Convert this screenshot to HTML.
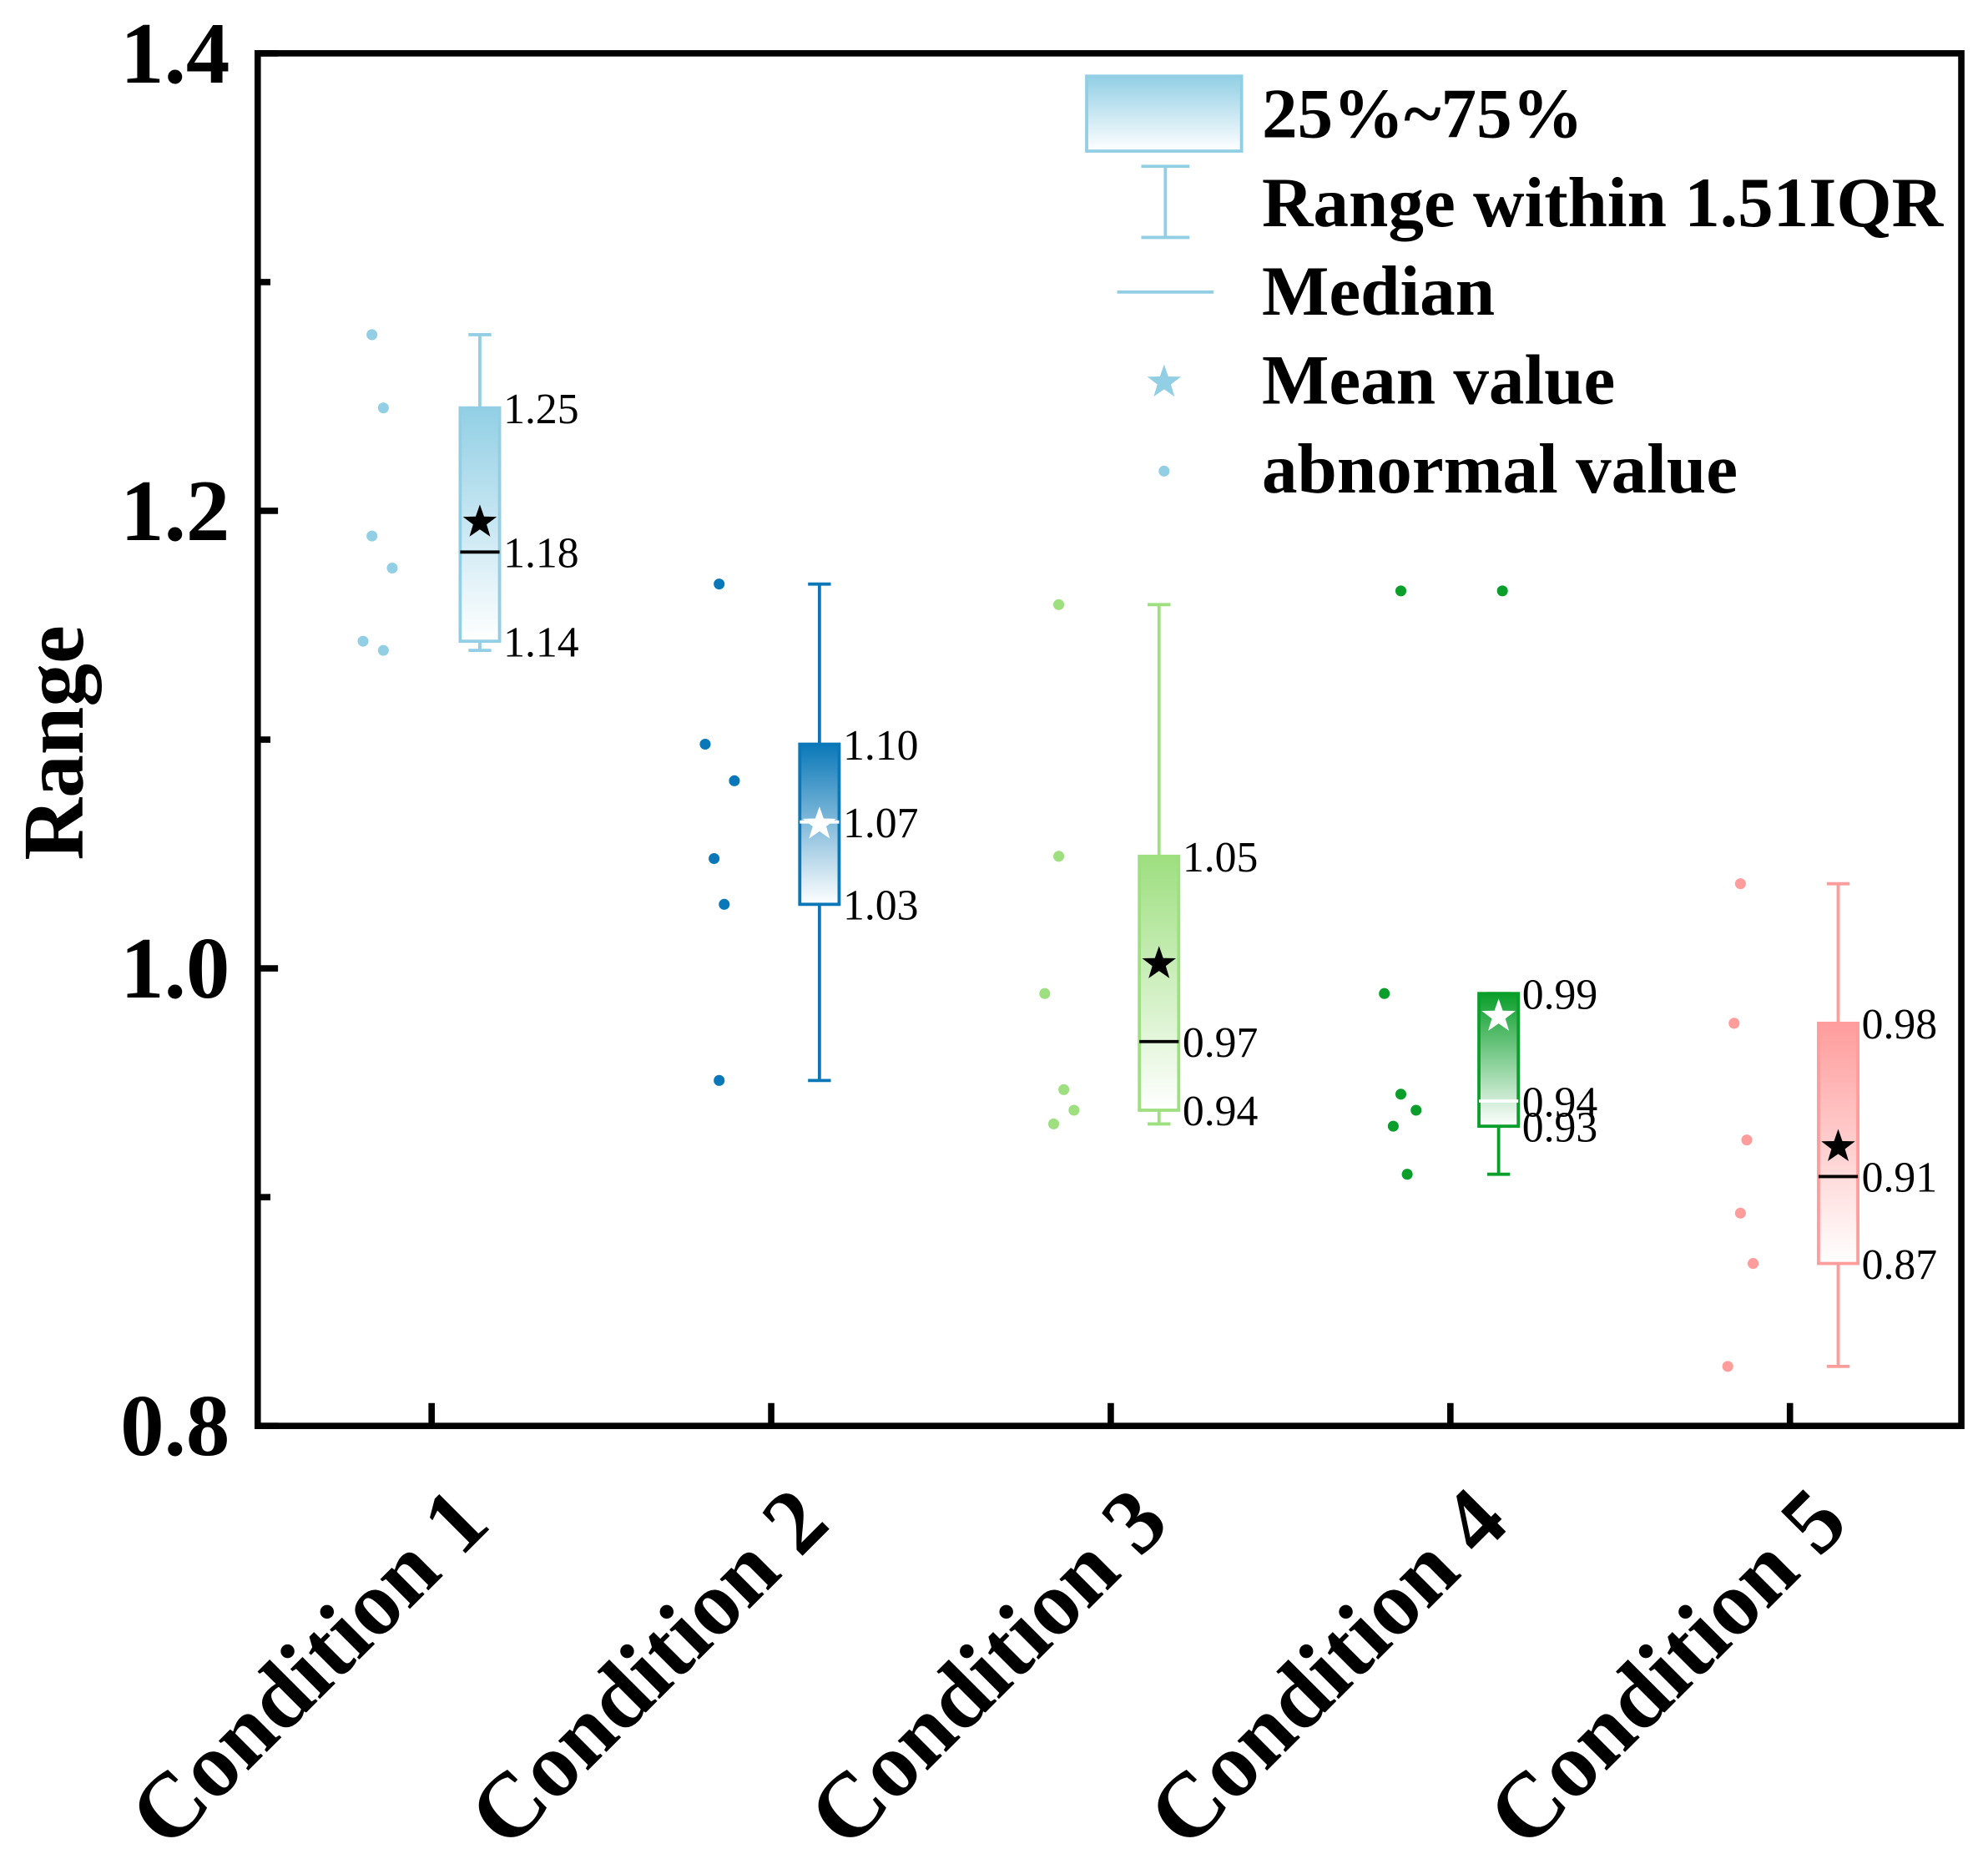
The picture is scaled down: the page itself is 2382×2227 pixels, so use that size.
<!DOCTYPE html>
<html><head><meta charset="utf-8"><style>
html,body{margin:0;padding:0;background:#fff;}
svg{display:block;}
text{font-family:"Liberation Serif",serif;}
</style></head><body>
<svg id="chart" width="2382" height="2227" viewBox="0 0 1566 1464.1" xmlns="http://www.w3.org/2000/svg">
<defs id="defs"></defs>
<g id="axes"></g>
<g id="boxes"></g>
<g id="legend"></g>
</svg>
<script>
const categories = ["Condition 1","Condition 2","Condition 3","Condition 4","Condition 5"];
const colors = ["#92CFE5","#0A78B8","#9EDF80","#0A9E2A","#FF9C9C"];
const whiskerHigh = [1.277,1.168,1.159,0.989,1.037];
const q3Values = [1.245,1.098,1.049,0.989,0.976];
const medianValues = [1.182,1.064,0.968,0.942,0.909];
const meanValues = [1.195,1.063,1.002,0.979,0.922];
const q1Values = [1.143,1.028,0.938,0.931,0.871];
const whiskerLow = [1.139,0.951,0.932,0.910,0.826];
const q3Labels = ["1.25","1.10","1.05","0.99","0.98"];
const medianLabels = ["1.18","1.07","0.97","0.94","0.91"];
const q1Labels = ["1.14","1.03","0.94","0.93","0.87"];
const meanStarWhite = [false,true,false,true,false];
const outliers = [
  [1.277,1.245,1.189,1.175,1.143,1.139],
  [1.168,1.098,1.082,1.048,1.028,0.951],
  [1.159,1.049,0.989,0.947,0.938,0.932],
  [1.165,1.165,0.989,0.945,0.938,0.931,0.910],
  [1.037,0.976,0.925,0.893,0.871,0.826]
];
const outlierOffsets = [
  [-47,-38,-47,-31,-54,-38],
  [-41,-52,-29,-45,-37,-41],
  [-41,-41,-52,-37,-29,-45],
  [-39,41,-52,-39,-27,-45,-34],
  [-39,-44,-34,-39,-29,-49]
];
const yTicks = [0.8,1.0,1.2,1.4];
const yMinor = [0.9,1.1,1.3];

const NS="http://www.w3.org/2000/svg";
const L=203,R=1545,T=42,B=1123,YMIN=0.8,YMAX=1.4;
const y=v=>B-(v-YMIN)/(YMAX-YMIN)*(B-T);
const xTick=i=>340+i*267.5;
const xBox=i=>xTick(i)+38;
function mk(tag,attrs,parent){const e=document.createElementNS(NS,tag);for(const k in attrs)e.setAttribute(k,attrs[k]);parent.appendChild(e);return e;}
const defs=document.getElementById('defs'),axes=document.getElementById('axes'),boxes=document.getElementById('boxes'),legend=document.getElementById('legend');
function starPts(cx,cy,r){let p=[];for(let k=0;k<10;k++){const rr=k%2?r*0.4:r;const a=-Math.PI/2+k*Math.PI/5;p.push((cx+rr*Math.cos(a)).toFixed(2)+','+(cy+rr*Math.sin(a)).toFixed(2));}return p.join(' ');}

colors.forEach((c,i)=>{const g=mk('linearGradient',{id:'grad'+i,x1:0,y1:0,x2:0,y2:1},defs);mk('stop',{offset:'0',  'stop-color':c},g);mk('stop',{offset:'1','stop-color':'#ffffff'},g);});

const frame=mk('rect',{x:L,y:T,width:R-L,height:B-T,fill:'none',stroke:'#000','stroke-width':5},axes);


yTicks.forEach(v=>{
  const t=mk('line',{x1:L,x2:L+16,y1:y(v),y2:y(v),stroke:'#000','stroke-width':5},axes);
  
  
  const lb=mk('text',{x:181,y:y(v)+23,'text-anchor':'end','font-size':69,'font-weight':'bold'},axes);
  lb.textContent=v.toFixed(1);
  
  
});
yMinor.forEach(v=>{
  const t=mk('line',{x1:L,x2:L+10,y1:y(v),y2:y(v),stroke:'#000','stroke-width':5},axes);
  
  
});
const yt=mk('text',{x:0,y:0,transform:'translate(65,585) rotate(-90)','text-anchor':'middle','font-size':68,'font-weight':'bold'},axes);
yt.textContent='Range';



categories.forEach((cat,i)=>{
  const xt=xTick(i);
  const tk=mk('line',{x1:xt,x2:xt,y1:B,y2:B-18,stroke:'#000','stroke-width':5},axes);
  
  
  const lb=mk('text',{x:0,y:0,transform:`translate(${xt+48},${1202}) rotate(-45)`,'text-anchor':'end','font-size':72,'font-weight':'bold'},axes);
  lb.textContent=cat;
  
  

  const c=colors[i],cx=xBox(i),w=31;
  const g=mk('g',{},boxes);
  
  
  mk('line',{x1:cx,x2:cx,y1:y(whiskerHigh[i]),y2:y(q3Values[i]),stroke:c,'stroke-width':2.5},g);
  mk('line',{x1:cx,x2:cx,y1:y(q1Values[i]),y2:y(whiskerLow[i]),stroke:c,'stroke-width':2.5},g);
  mk('line',{x1:cx-9,x2:cx+9,y1:y(whiskerHigh[i]),y2:y(whiskerHigh[i]),stroke:c,'stroke-width':2.5},g);
  mk('line',{x1:cx-9,x2:cx+9,y1:y(whiskerLow[i]),y2:y(whiskerLow[i]),stroke:c,'stroke-width':2.5},g);
  mk('rect',{x:cx-w/2,y:y(q3Values[i]),width:w,height:y(q1Values[i])-y(q3Values[i]),fill:`url(#grad${i})`,stroke:c,'stroke-width':2.5},g);
  const white=meanStarWhite[i];
  mk('line',{x1:cx-w/2,x2:cx+w/2,y1:y(medianValues[i]),y2:y(medianValues[i]),stroke:white?'#fff':'#000','stroke-width':2.5},g);
  const st=mk('polygon',{points:starPts(cx,y(meanValues[i]),14),fill:white?'#fff':'#000'},g);
  
  
  [[q3Values,q3Labels],[medianValues,medianLabels],[q1Values,q1Labels]].forEach(([vals,labs])=>{
    const t=mk('text',{x:cx+w/2+3,y:y(vals[i])+12,'font-size':34},g);
    t.textContent=labs[i];
    
    
  });
  outliers[i].forEach((v,k)=>{
    const d=mk('circle',{cx:xt+outlierOffsets[i][k],cy:y(v),r:4.3,fill:c},g);
    
    
  });
});

const lg=mk('linearGradient',{id:'legGrad',x1:0,y1:0,x2:0,y2:1},defs);
mk('stop',{offset:'0','stop-color':'#92CFE5'},lg);mk('stop',{offset:'1','stop-color':'#fff'},lg);
const lc='#92CFE5';
const lbx=mk('rect',{x:856,y:60,width:122,height:59,fill:'url(#legGrad)',stroke:lc,'stroke-width':2.5},legend);


mk('line',{x1:918,x2:918,y1:131,y2:187,stroke:lc,'stroke-width':2.5},legend);
mk('line',{x1:899,x2:937,y1:131,y2:131,stroke:lc,'stroke-width':2.5},legend);
mk('line',{x1:899,x2:937,y1:187,y2:187,stroke:lc,'stroke-width':2.5},legend);
mk('line',{x1:880,x2:956,y1:230,y2:230,stroke:lc,'stroke-width':2.5},legend);
mk('polygon',{points:starPts(917,301,14),fill:lc},legend);
mk('circle',{cx:917,cy:371,r:4.3,fill:lc},legend);
const legTexts=[['25%~75%',108],['Range within 1.51IQR',178],['Median',248],['Mean value',318],['abnormal value',388]];
legTexts.forEach(([s,by])=>{
  const t=mk('text',{x:994,y:by,'font-size':56,'font-weight':'bold'},legend);
  t.textContent=s;
  
  
});
</script>
</body></html>
